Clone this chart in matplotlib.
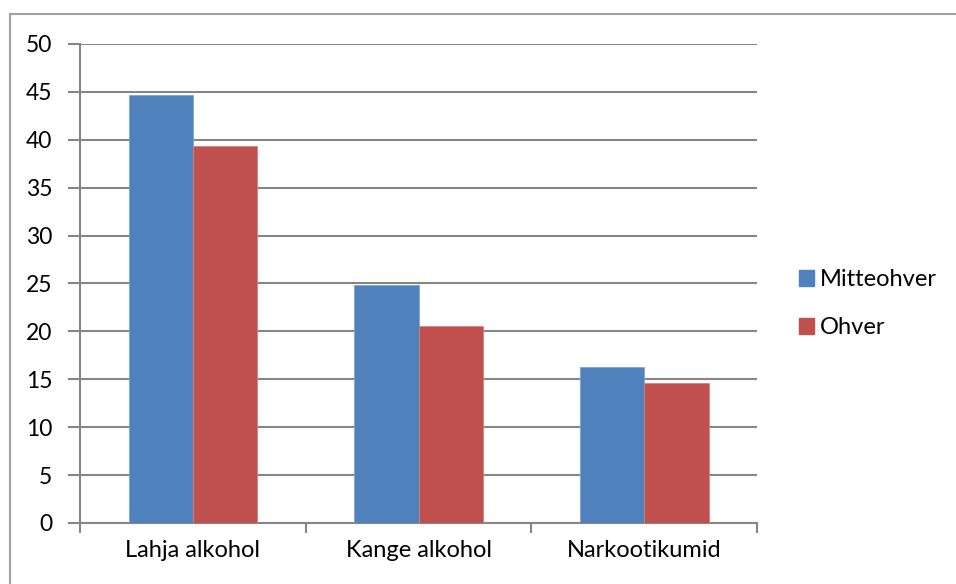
import numpy as np
import matplotlib.pyplot as plt
from matplotlib.patches import Patch
from matplotlib.lines import Line2D

categories = ['Lahja alkohol', 'Kange alkohol', 'Narkootikumid']
mitteohver = [44.7, 24.8, 16.3]
ohver = [39.3, 20.6, 14.6]
series_names = ['Mitteohver', 'Ohver']

plt.rcParams['font.family'] = ['Lato', 'DejaVu Sans']
blue = '#4F81BD'
red = '#C0504D'
grey = '#868686'

fig = plt.figure(figsize=(9.56, 5.84), dpi=100)
ax = fig.add_axes([0.0837, 0.1045, 0.7082, 0.8202])

x = np.arange(len(categories))
w = 0.285
ax.bar(x - w / 2, mitteohver, w, color=blue, edgecolor='#7FA3D3', linewidth=0.6, zorder=3)
ax.bar(x + w / 2, ohver, w, color=red, edgecolor='#D9807D', linewidth=0.6, zorder=3)

ax.set_xlim(-0.5, 2.5)
ax.set_ylim(0, 50)
ax.set_yticks(np.arange(0, 51, 5))
ax.yaxis.grid(True, color=grey, linewidth=1.5, zorder=0)
ax.set_axisbelow(True)

# category labels centered, ticks at boundaries
ax.set_xticks(np.arange(-0.5, 2.6, 1.0))
ax.set_xticklabels([])
ax.set_xticks(x, minor=True)
ax.set_xticklabels(categories, minor=True)
ax.tick_params(axis='x', which='minor', length=0, pad=12, labelsize=17)
ax.tick_params(axis='x', which='major', length=7, width=1.5, color=grey, direction='out')
ax.tick_params(axis='y', length=9, width=1.5, color=grey, pad=11, labelsize=16.5)

for s in ['top', 'right']:
    ax.spines[s].set_visible(False)
for s in ['left', 'bottom']:
    ax.spines[s].set_color(grey)
    ax.spines[s].set_linewidth(1.5)

handles = [Patch(color=blue), Patch(color=red)]
ax.legend(handles, series_names, loc='center left', bbox_to_anchor=(1.03, 0.458),
          frameon=False, fontsize=17, handlelength=0.64, handleheight=0.64,
          handletextpad=0.25, labelspacing=1.15)

# outer chart frame
fig.add_artist(Line2D([10 / 956, 10 / 956], [0, 1 - 14 / 584], transform=fig.transFigure,
                      color='#A0A0A0', linewidth=1.5))
fig.add_artist(Line2D([10 / 956, 1], [1 - 14 / 584, 1 - 14 / 584], transform=fig.transFigure,
                      color='#A0A0A0', linewidth=1.5))

fig.savefig('out.png', dpi=100)
